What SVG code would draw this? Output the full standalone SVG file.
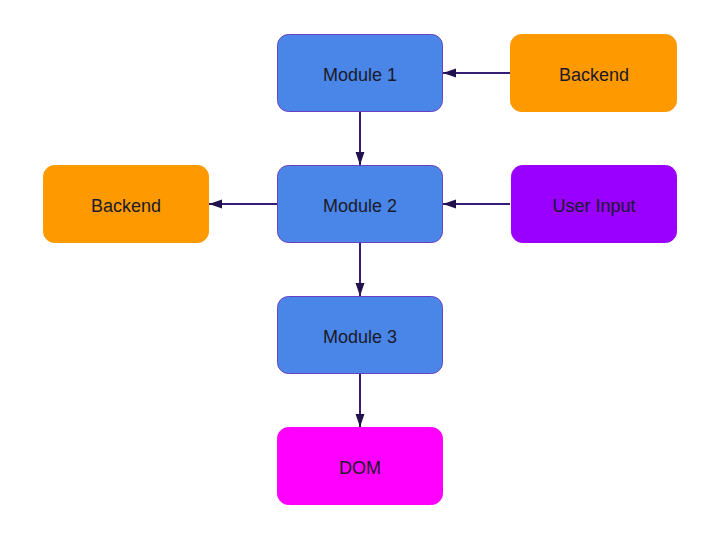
<svg xmlns="http://www.w3.org/2000/svg" width="720" height="540" viewBox="0 0 720 540">
<defs>
<style>
.n{stroke-width:1}
.blue{fill:#4a86e8;stroke:#6a3fc0}
.orange{fill:#ff9900;stroke:#ff9900}
.purple{fill:#9900ff;stroke:#9900ff}
.magenta{fill:#ff00ff;stroke:#ff00ff}
.t{font-family:"Liberation Sans",Arial,sans-serif;font-size:18px;fill:#1a1a2a;text-anchor:middle}
.c{stroke:#351c75;stroke-width:2;fill:none;marker-end:url(#ah)}
</style>
<marker id="ah" markerWidth="14" markerHeight="10" refX="13" refY="5" orient="auto" markerUnits="userSpaceOnUse" viewBox="0 0 14 10">
<path d="M0,0.5 L13,5 L0,9.5 Z" fill="#20124d"/>
</marker>
</defs>
<rect width="720" height="540" fill="#ffffff"/>
<g id="connectors">
<path d="M510,73 L443,73" class="c"/>
<path d="M360,112 L360,165" class="c"/>
<path d="M277,204 L209,204" class="c"/>
<path d="M510,204 L443,204" class="c"/>
<path d="M360,243 L360,296" class="c"/>
<path d="M360,374 L360,427" class="c"/>
</g>
<g id="module1"><rect class="n blue" x="277.5" y="34.5" width="165" height="77" rx="11"/><text class="t" x="360" y="80.5">Module 1</text></g>
<g id="backend1"><rect class="n orange" x="510.5" y="34.5" width="166" height="77" rx="11"/><text class="t" x="594" y="80.5">Backend</text></g>
<g id="module2"><rect class="n blue" x="277.5" y="165.5" width="165" height="77" rx="11"/><text class="t" x="360" y="211.5">Module 2</text></g>
<g id="backend2"><rect class="n orange" x="43.5" y="165.5" width="165" height="77" rx="11"/><text class="t" x="126" y="211.5">Backend</text></g>
<g id="userinput"><rect class="n purple" x="511.5" y="165.5" width="165" height="77" rx="11"/><text class="t" x="594" y="211.5">User Input</text></g>
<g id="module3"><rect class="n blue" x="277.5" y="296.5" width="165" height="77" rx="11"/><text class="t" x="360" y="342.5">Module 3</text></g>
<g id="dom"><rect class="n magenta" x="277.5" y="427.5" width="165" height="77" rx="11"/><text class="t" x="360" y="473.5">DOM</text></g>
</svg>
